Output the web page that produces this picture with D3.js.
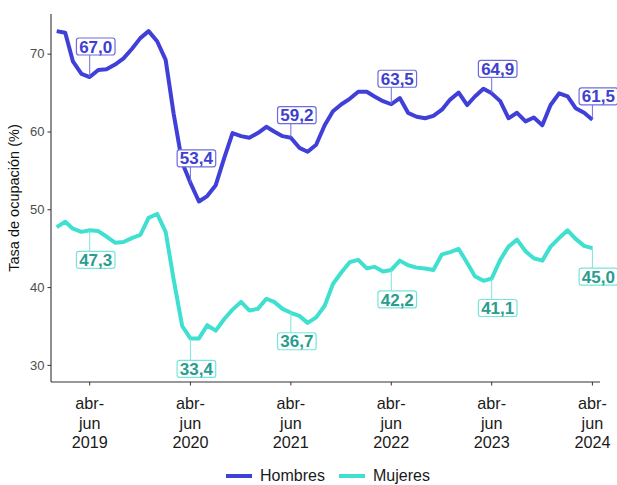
<!DOCTYPE html>
<html>
<head>
<meta charset="utf-8">
<script src="https://cdn.jsdelivr.net/npm/d3@7"></script>
<style>
  body { margin: 0; background: #fff; }
  svg { display: block; font-family: "Liberation Sans", Arial, sans-serif; }
</style>
</head>
<body>
<div id="chart"></div>
<script>
/*---------- DATA ----------*/
// Trimestres móviles: dic-feb 2019 ... abr-jun 2024 (mes central de cada trimestre)
const meses = d3.timeMonth.range(new Date(2019, 0, 1), new Date(2024, 5, 1));

const hombres = [
  72.9, 72.7, 69.0, 67.4, 67.0, 67.9, 68.0, 68.6, 69.4, 70.6, 72.0, 72.9,
  71.6, 69.2, 62.3, 56.0, 53.4, 51.0, 51.7, 53.1, 56.6, 59.8, 59.4, 59.2,
  59.8, 60.6, 60.0, 59.4, 59.2, 57.9, 57.4, 58.3, 60.8, 62.6, 63.5, 64.2,
  65.1, 65.1, 64.5, 63.9, 63.5, 64.3, 62.4, 61.9, 61.7, 62.0, 62.8, 64.1,
  65.0, 63.4, 64.5, 65.5, 64.9, 63.9, 61.7, 62.4, 61.3, 61.8, 60.8, 63.4,
  64.9, 64.5, 63.0, 62.4, 61.5,
];
const mujeres = [
  47.7, 48.4, 47.5, 47.1, 47.3, 47.2, 46.5, 45.7, 45.8, 46.3, 46.7, 48.9,
  49.4, 47.1, 41.0, 35.0, 33.4, 33.4, 35.1, 34.4, 35.9, 37.1, 38.1, 37.0,
  37.2, 38.5, 38.1, 37.2, 36.7, 36.3, 35.4, 36.1, 37.6, 40.4, 41.9, 43.2,
  43.5, 42.4, 42.6, 42.0, 42.2, 43.4, 42.8, 42.5, 42.4, 42.2, 44.2, 44.5,
  44.9, 43.1, 41.4, 40.8, 41.1, 43.5, 45.2, 46.1, 44.6, 43.7, 43.4, 45.2,
  46.3, 47.3, 46.2, 45.3, 45.0,
];
const series = ["Hombres", "Mujeres"];
const yTicks = [30, 40, 50, 60, 70];
const anios = [2019, 2020, 2021, 2022, 2023, 2024];

/*---------- SETUP ----------*/
const width = 617;
const height = 485;
const colores = { Hombres: "#4040d8", Mujeres: "#40e0d0" };
const textoEtiqueta = { Hombres: "#4040d0", Mujeres: "#2a9d8f" };
const bordeEtiqueta = { Hombres: "#6c6ce0", Mujeres: "#76e6da" };

const svg = d3
  .select("#chart")
  .append("svg")
  .attr("width", width)
  .attr("height", height);

const x = d3
  .scaleTime()
  .domain([meses[0], meses[meses.length - 1]])
  .range([56.7, 592.4]);
const y = d3.scaleLinear().domain([27.8, 75.1]).range([382, 14]);

const axisLeft = 51;
const axisBottom = 382;

// Axis lines
svg
  .append("line")
  .attr("x1", axisLeft)
  .attr("x2", axisLeft)
  .attr("y1", 14)
  .attr("y2", axisBottom)
  .attr("stroke", "#333")
  .attr("stroke-width", 1.1);
svg
  .append("line")
  .attr("x1", axisLeft)
  .attr("x2", 600)
  .attr("y1", axisBottom)
  .attr("y2", axisBottom)
  .attr("stroke", "#333")
  .attr("stroke-width", 1.1);

// Y axis
const gy = svg
  .append("g")
  .attr("transform", `translate(${axisLeft},0)`)
  .call(d3.axisLeft(y).tickValues(yTicks).tickSize(3.5).tickPadding(3));
gy.select(".domain").remove();
gy.selectAll(".tick line").attr("stroke", "#333");
gy.selectAll(".tick text")
  .attr("fill", "#4d4d4d")
  .attr("font-size", "13px")
  .attr("font-family", "Liberation Sans, Arial, sans-serif");

svg
  .append("text")
  .attr("transform", "translate(19,198) rotate(-90)")
  .attr("text-anchor", "middle")
  .attr("font-size", "14.5px")
  .attr("fill", "#111")
  .text("Tasa de ocupación (%)");

// X axis
const tickDates = anios.map((a) => new Date(a, 4, 1));
const gx = svg.append("g").attr("transform", `translate(0,${axisBottom})`);
gx.selectAll("line.tick")
  .data(tickDates)
  .join("line")
  .attr("class", "tick")
  .attr("x1", (d) => x(d))
  .attr("x2", (d) => x(d))
  .attr("y1", 0)
  .attr("y2", 3.5)
  .attr("stroke", "#333");
const tickText = gx
  .selectAll("text")
  .data(tickDates)
  .join("text")
  .attr("text-anchor", "middle")
  .attr("font-size", "16.2px")
  .attr("fill", "#1a1a1a");
tickText.append("tspan").attr("x", (d) => x(d)).attr("y", 27).text("abr-");
tickText.append("tspan").attr("x", (d) => x(d)).attr("y", 46.5).text("jun");
tickText
  .append("tspan")
  .attr("x", (d) => x(d))
  .attr("y", 66)
  .text((d) => d.getFullYear());

/*---------- LINES ----------*/
const valores = { Hombres: hombres, Mujeres: mujeres };
const line = d3
  .line()
  .x((d, i) => x(meses[i]))
  .y((d) => y(d));

series.forEach((s) => {
  svg
    .append("path")
    .datum(valores[s])
    .attr("d", line)
    .attr("fill", "none")
    .attr("stroke", colores[s])
    .attr("stroke-width", 4)
    .attr("stroke-linejoin", "round");
});

/*---------- LABELS (abr-jun de cada año) ----------*/
const fmt = (v) => d3.format(".1f")(v).replace(".", ",");
const offsets = {
  Hombres: [-22, -16, -14, -17, -16, -15],
  Mujeres: [21, 22, 20, 21, 21, 20],
};
const boxH = 17;

series.forEach((s) => {
  const idx = meses
    .map((m, i) => (m.getMonth() === 4 ? i : -1))
    .filter((i) => i >= 0);
  idx.forEach((i, k) => {
    const px = x(meses[i]);
    const py = y(valores[s][i]);
    const off = offsets[s][k];
    const cx = px + 6;
    const top = off < 0 ? py + off - boxH : py + off;
    const g = svg.append("g");
    g.append("line")
      .attr("x1", px)
      .attr("x2", px)
      .attr("y1", py)
      .attr("y2", off < 0 ? top + boxH : top)
      .attr("stroke", bordeEtiqueta[s])
      .attr("stroke-width", 1);
    const rect = g.append("rect");
    const t = g
      .append("text")
      .attr("x", cx)
      .attr("y", top + boxH / 2 + 6.1)
      .attr("text-anchor", "middle")
      .attr("font-size", "17px")
      .attr("font-weight", "bold")
      .attr("fill", textoEtiqueta[s])
      .text(fmt(valores[s][i]));
    const w = t.node().getComputedTextLength() + 5.5;
    rect
      .attr("x", cx - w / 2)
      .attr("y", top)
      .attr("width", w)
      .attr("height", boxH)
      .attr("rx", 2.5)
      .attr("fill", "#fff")
      .attr("stroke", bordeEtiqueta[s])
      .attr("stroke-width", 1.2);
  });
});

/*---------- LEGEND ----------*/
const legend = svg.append("g").attr("transform", "translate(226,476)");
const legendX = [0, 113];
series.forEach((s, i) => {
  legend
    .append("line")
    .attr("x1", legendX[i])
    .attr("x2", legendX[i] + 26)
    .attr("y1", 0)
    .attr("y2", 0)
    .attr("stroke", colores[s])
    .attr("stroke-width", 4);
  legend
    .append("text")
    .attr("x", legendX[i] + 34)
    .attr("y", 5.4)
    .attr("font-size", "16px")
    .attr("fill", "#1a1a1a")
    .text(s);
});
</script>
</body>
</html>
